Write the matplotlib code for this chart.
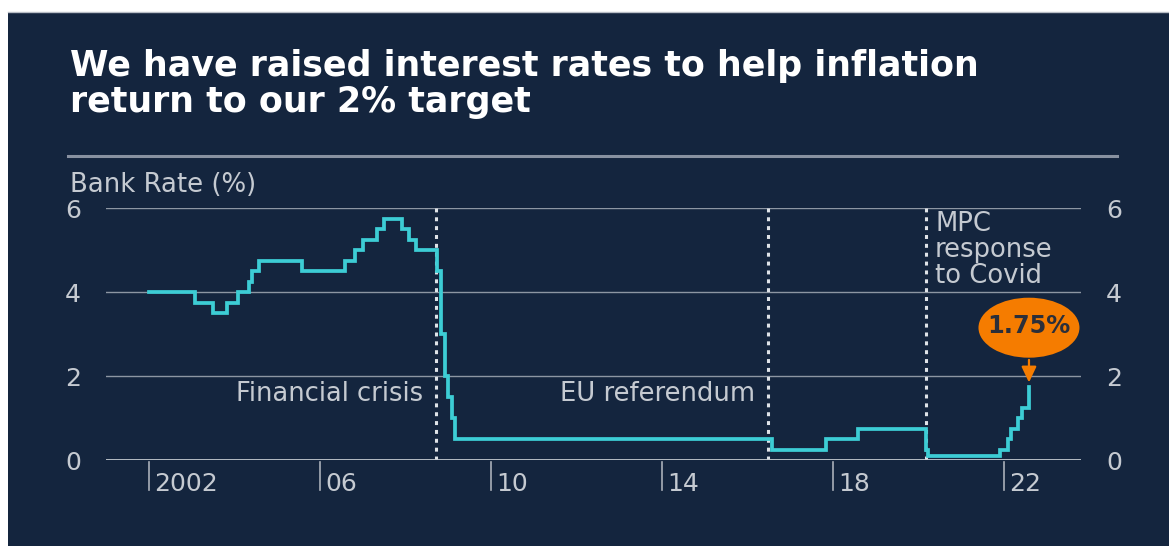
import matplotlib
matplotlib.use("Agg")
import matplotlib.pyplot as plt
from matplotlib.patches import Ellipse, Rectangle

# ---- data: Bank Rate change dates (year, month) and new rate (%)
change_dates = [(2002, 1), (2003, 2), (2003, 7), (2003, 11), (2004, 2), (2004, 5),
                (2004, 6), (2004, 8), (2005, 8), (2006, 8), (2006, 11), (2007, 1),
                (2007, 5), (2007, 7), (2007, 12), (2008, 2), (2008, 4), (2008, 10),
                (2008, 11), (2008, 12), (2009, 1), (2009, 2), (2009, 3), (2016, 8),
                (2017, 11), (2018, 8), (2020, 3), (2020, 3.6), (2021, 12), (2022, 2),
                (2022, 3), (2022, 5), (2022, 6), (2022, 8)]
rates = [4.00, 3.75, 3.50, 3.75, 4.00, 4.25, 4.50, 4.75, 4.50, 4.75, 5.00, 5.25,
         5.50, 5.75, 5.50, 5.25, 5.00, 4.50, 3.00, 2.00, 1.50, 1.00, 0.50, 0.25,
         0.50, 0.75, 0.25, 0.10, 0.25, 0.50, 0.75, 1.00, 1.25, 1.75]
event_dates = [(2008, 9.5), (2016, 6.7), (2020, 3)]
event_labels = ["Financial crisis", "EU referendum", "MPC\nresponse\nto Covid"]
x_ticks = [2002, 2006, 2010, 2014, 2018, 2022]
x_ticklabels = ["2002", "06", "10", "14", "18", "22"]
y_ticks = [0, 2, 4, 6]
latest_label = "1.75%"

def dec(ym):
    y, m = ym
    return y + (m - 1) / 12.0

xs = [dec(d) for d in change_dates]

NAVY = "#14253e"
CYAN = "#3dcdd5"
GREY = "#c5cad1"
ORANGE = "#f57c00"

W, H = 1169, 546
fig = plt.figure(figsize=(W / 100, H / 100), dpi=100)
fig.patch.set_facecolor("white")
fig.patches.append(Rectangle((8 / W, 0), 1 - 8 / W, 1 - 12 / H, transform=fig.transFigure,
                             facecolor=NAVY, edgecolor="none", zorder=-10))
fig.lines.append(plt.Line2D([8 / W, 1], [1 - 12 / H, 1 - 12 / H], transform=fig.transFigure,
                            color="#b9bec6", lw=1, zorder=-5))

font = "DejaVu Sans"
title = fig.text(70 / W, 1 - 84 / H,
                 "We have raised interest rates to help inflation\nreturn to our 2% target",
                 color="white", fontsize=24, fontweight="bold", family=font, va="center",
                 linespacing=1.05)
fig.lines.append(plt.Line2D([68 / W, 1117 / W], [1 - 156 / H, 1 - 156 / H],
                            transform=fig.transFigure, color="#8891a0", lw=2.2))
ylab = fig.text(70 / W, 1 - 185 / H, "Bank Rate (%)", color=GREY, fontsize=15, family=font,
                va="center")

ax = fig.add_axes([106 / W, 1 - 460 / H, 975 / W, 252 / H])
ax.set_facecolor("none")
ax.set_xlim(2001.0, 2023.8)
ax.set_ylim(0, 6)
for s in ax.spines.values():
    s.set_visible(False)

for yv in y_ticks[1:]:
    ax.axhline(yv, color="#8d96a3", lw=1.0, zorder=1)
ax.axhline(0, color=GREY, lw=2.0, zorder=3)

ax.set_yticks(y_ticks)
ax.set_yticklabels([str(v) for v in y_ticks])
ax.tick_params(axis="y", length=0, pad=18, labelsize=16, labelcolor=GREY,
               labelleft=True, labelright=True)
for lab in ax.get_yticklabels():
    lab.set_family(font)

ax.set_xticks([])
xlabs = []
for xt, lab in zip(x_ticks, x_ticklabels):
    ax.plot([xt, xt], [-0.05, -0.72], color="#aab0b9", lw=1.2, clip_on=False, zorder=3)
    xlabs.append(ax.text(xt + 0.13, -0.58, lab, color=GREY, fontsize=16, family=font,
                         ha="left", va="center", clip_on=False))

ev_x = [dec(d) for d in event_dates]
for xv in ev_x:
    ax.plot([xv, xv], [0, 6], color="#dfe3e8", lw=2.2, ls=(0, (1.3, 1.6)), zorder=2)
t1 = ax.text(ev_x[0] - 0.3, 1.58, event_labels[0], color=GREY, fontsize=16, family=font,
             ha="right", va="center")
t2 = ax.text(ev_x[1] - 0.3, 1.58, event_labels[1], color=GREY, fontsize=16, family=font,
             ha="right", va="center")
t3 = ax.text(ev_x[2] + 0.22, 5.92, event_labels[2], color=GREY, fontsize=16, family=font,
             ha="left", va="top", linespacing=0.98)

ax.step(xs, rates, where="post", color=CYAN, lw=2.7, zorder=4, solid_joinstyle="miter")

lx = xs[-1]
ax.add_patch(Ellipse((lx, 3.15), 101 / 975 * 22.8, 60 / 252 * 6, facecolor=ORANGE,
                     edgecolor="none", zorder=5))
tl = ax.text(lx, 3.2, latest_label, color="#2b2f3a", fontsize=14, fontweight="bold",
             family=font, ha="center", va="center", zorder=6)
ax.annotate("", xy=(lx, rates[-1] + 0.03), xytext=(lx, 2.45),
            arrowprops=dict(arrowstyle="-|>,head_width=0.45,head_length=0.95",
                            color=ORANGE, lw=1.6), zorder=5)

# fit text widths to the widths seen in the reference (reference is horizontally wide)
fig.canvas.draw()
r = fig.canvas.get_renderer()
def fit(t, target, first_line=None):
    if first_line is not None:
        orig = t.get_text()
        t.set_text(first_line)
        w = t.get_window_extent(r).width
        t.set_text(orig)
    else:
        w = t.get_window_extent(r).width
    t.set_fontsize(t.get_fontsize() * target / w)

shrink = 0.9
fit(title, 990 * 0.92, "We have raised interest rates to help inflation")
fit(ylab, 207 * shrink)
fit(t1, 209 * shrink)
fit(t2, 217 * shrink)
fit(t3, 131 * shrink, "response")
fit(tl, 88 * 0.95)
fs = xlabs[0].get_fontsize() * 71 * shrink / xlabs[0].get_window_extent(r).width
for t in xlabs:
    t.set_fontsize(fs)
for lab in ax.get_yticklabels():
    lab.set_fontsize(fs)

fig.savefig("out.png", dpi=100, facecolor=fig.get_facecolor())
